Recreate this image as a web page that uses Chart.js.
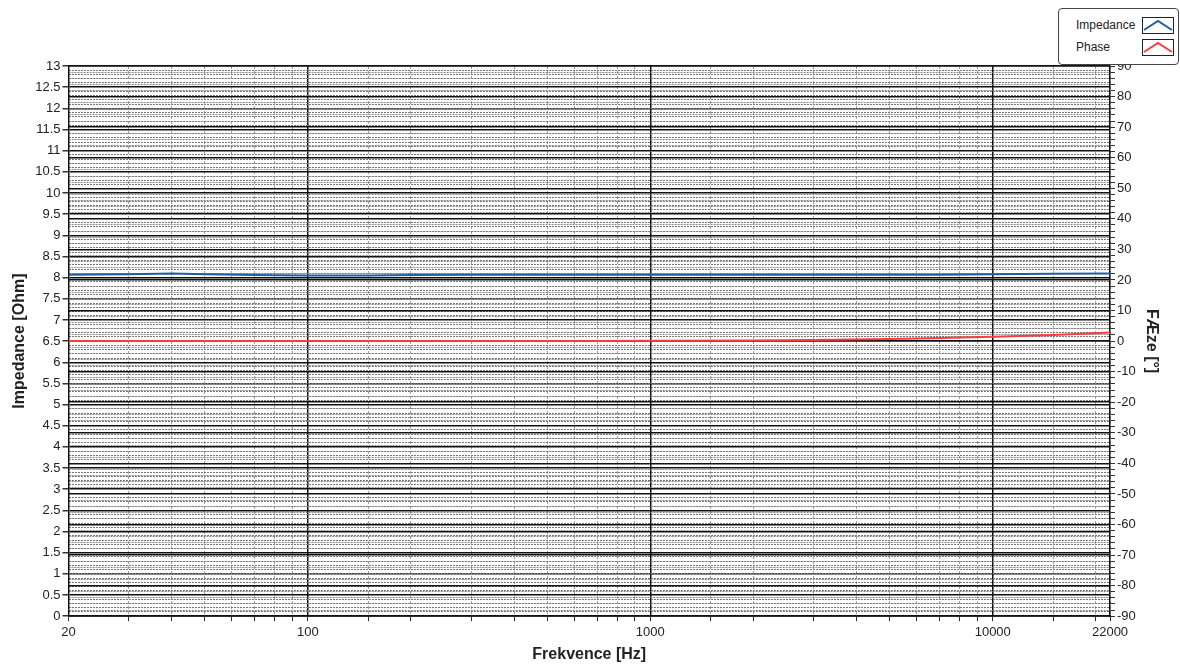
<!DOCTYPE html>
<html>
<head>
<meta charset="utf-8">
<script src="https://cdn.jsdelivr.net/npm/chart.js@4"></script>
<style>
  html, body { margin: 0; padding: 0; background: #fff; }
  #wrap { position: relative; width: 1180px; height: 666px; }
  #legend {
    position: absolute; left: 1058px; top: 8px; width: 119px; height: 55px;
    border: 1px solid #444; border-radius: 4px; background: #fff;
    font: 12px "Liberation Sans", Arial, sans-serif; color: #222;
  }
  #legend .row { position: absolute; left: 17px; width: 100px; height: 18px; line-height: 18px; }
  #legend svg { position: absolute; left: 66px; top: 1px; }
</style>
</head>
<body>
<div id="wrap">
  <canvas id="graphe" width="1180" height="666"></canvas>
  <div id="legend"></div>
</div>
<script>
// Fréquences (Hz)
const freq = [20, 30, 40, 50, 70, 100, 150, 200, 300, 500, 700, 1000, 2000, 3000, 5000, 7000, 10000, 15000, 22000];
// Impédance (Ohm)
const impedance = [8.07, 8.08, 8.10, 8.08, 8.06, 8.05, 8.05, 8.06, 8.07, 8.07, 8.07, 8.07, 8.07, 8.07, 8.07, 8.07, 8.08, 8.09, 8.10];
// Phase (degrés)
const phase = [0, 0, 0, 0, 0, 0, 0, 0, 0, 0.05, 0.05, 0.1, 0.2, 0.35, 0.7, 1.0, 1.4, 2.0, 2.8];
// Labels affichés sur l'axe des x
const xLabels = [20, 100, 1000, 10000, 22000];
const decades = [100, 1000, 10000];

const blue = '#1f5f9f';
const red = '#ff3b3b';
const font = '"Liberation Sans", Arial, sans-serif';

const minorY = {
  display: true,
  ticks: { display: false },
  border: { display: false, dash: [2, 1] },
  grid: { drawTicks: false, color: '#777', lineWidth: 1 }
};

const config = {
  type: 'line',
  data: {
    datasets: [
      {
        label: 'Impedance',
        data: freq.map((f, i) => ({ x: f, y: impedance[i] })),
        borderColor: blue,
        borderWidth: 2,
        pointRadius: 0,
        yAxisID: 'y'
      },
      {
        label: 'Phase',
        data: freq.map((f, i) => ({ x: f, y: phase[i] })),
        borderColor: red,
        borderWidth: 2,
        pointRadius: 0,
        yAxisID: 'y1'
      }
    ]
  },
  options: {
    responsive: false,
    animation: false,
    layout: { padding: { left: 6, top: 66, right: 15, bottom: 2 } },
    plugins: { legend: { display: false }, tooltip: { enabled: false } },
    scales: {
      x: {
        type: 'logarithmic',
        position: 'bottom',
        min: 20,
        max: 22000,
        border: { display: true, color: '#111', width: 1.5, dash: [3, 2] },
        grid: { color: '#a0a0a0', lineWidth: 1, tickLength: 5, tickColor: '#333' },
        ticks: {
          autoSkip: false, maxRotation: 0, padding: 3,
          color: '#222', font: { family: font, size: 13 },
          callback: v => xLabels.includes(v) ? String(v) : ''
        },
        title: {
          display: true, text: 'Frekvence [Hz]', color: '#222',
          font: { family: font, size: 16, weight: 'bold' }, padding: { top: 2, bottom: 0 }
        }
      },
      xMajor: {
        type: 'logarithmic',
        position: 'bottom',
        min: 20,
        max: 22000,
        afterBuildTicks: s => { s.ticks = decades.map(v => ({ value: v })); },
        ticks: { display: false },
        border: { display: false },
        grid: { drawTicks: false, color: '#111', lineWidth: 1.5 }
      },
      y: {
        position: 'left',
        min: 0,
        max: 13,
        border: { color: '#111', width: 1.5 },
        grid: { color: '#111', lineWidth: 1.5, tickLength: 6, tickColor: '#333' },
        ticks: {
          stepSize: 0.5, padding: 2, color: '#222', font: { family: font, size: 13 },
          callback: v => String(Math.round(v * 10) / 10)
        },
        title: {
          display: true, text: 'Impedance [Ohm]', color: '#222',
          font: { family: font, size: 16, weight: 'bold' }, padding: 4
        }
      },
      yMinor: Object.assign({}, minorY, {
        position: 'left', min: 0, max: 13, weight: -1,
        ticks: { display: false, stepSize: 0.1 },
        grid: {
          drawTicks: false, lineWidth: 1,
          color: c => {
            const v = c.tick ? c.tick.value * 2 : 0;
            return Math.abs(v - Math.round(v)) < 1e-6 ? 'rgba(0,0,0,0)' : '#777';
          }
        }
      }),
      y1: {
        position: 'right',
        min: -90,
        max: 90,
        border: { color: '#111', width: 1.5 },
        grid: { drawOnChartArea: false, tickLength: 5, tickColor: '#333' },
        ticks: {
          stepSize: 2, autoSkip: false, padding: 2, color: '#222',
          font: { family: font, size: 13 },
          callback: v => v % 10 === 0 ? String(v) : ''
        },
        title: {
          display: true, text: 'FÆze [°]', color: '#222',
          font: { family: font, size: 16, weight: 'bold' }, padding: 4
        }
      },
      y1Major: {
        position: 'right', min: -90, max: 90, weight: -1,
        ticks: { display: false, stepSize: 10 },
        border: { display: false },
        grid: { drawTicks: false, color: '#111', lineWidth: 1.5 }
      },
      y1Minor: Object.assign({}, minorY, {
        position: 'right', min: -90, max: 90, weight: -2,
        ticks: { display: false, stepSize: 2 },
        grid: {
          drawTicks: false, lineWidth: 1,
          color: c => (c.tick && c.tick.value % 10 === 0) ? 'rgba(0,0,0,0)' : '#888'
        }
      })
    }
  }
};

const monGraphique = new Chart(document.getElementById('graphe'), config);

// Légende
const legend = document.getElementById('legend');
config.data.datasets.forEach((ds, i) => {
  const row = document.createElement('div');
  row.className = 'row';
  row.style.top = (7 + i * 22) + 'px';
  row.innerHTML = ds.label +
    '<svg width="32" height="17">' +
    '<rect x="0.5" y="0.5" width="31" height="16" fill="#fff" stroke="#222"/>' +
    '<polyline points="2,13 16,4 30,13" fill="none" stroke="' + ds.borderColor + '" stroke-width="2"/></svg>';
  legend.appendChild(row);
});
</script>
</body>
</html>
